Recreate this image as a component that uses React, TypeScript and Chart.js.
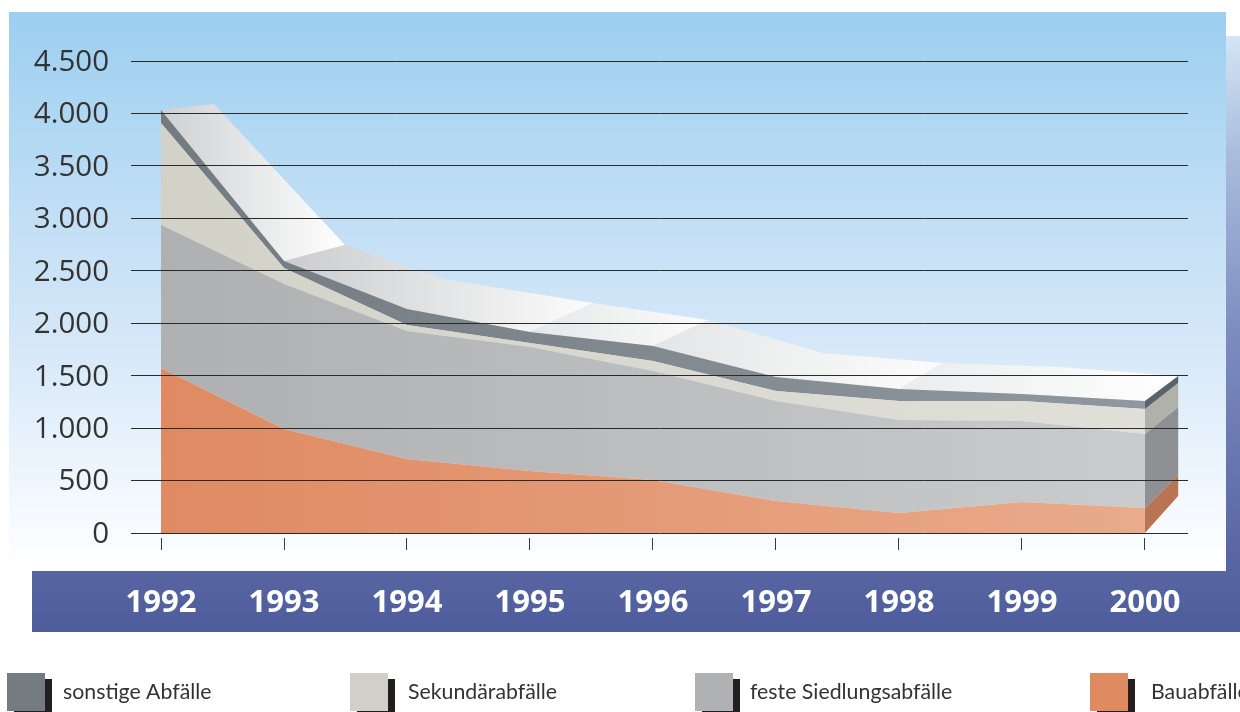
import React, { useEffect, useRef } from "react";
import { Chart, registerables } from "chart.js";

Chart.register(...registerables);

const years = [1992, 1993, 1994, 1995, 1996, 1997, 1998, 1999, 2000];
const bauabfaelle = [1573, 992, 706, 590, 505, 305, 190, 295, 238];
const siedlungsabfaelle = [1364, 1382, 1220, 1184, 1040, 954, 887, 773, 706];
const sekundaerabfaelle = [972, 153, 57, 38, 95, 95, 182, 191, 238];
const sonstigeAbfaelle = [124, 67, 153, 105, 143, 133, 114, 66, 77];

// Rear edge of the sloping top surface, in axis units.
const rearYears = [1992.43, 1993.496, 1994.29, 1995.51, 1996.45, 1997.38, 1998.35, 1999.3, 2000.27];
const rearValues = [4090, 2746, 2422, 2193, 2031, 1716, 1621, 1583, 1497];

// Rear edge of the end wall behind the last year: base, then each layer's top.
const wallRearYear = 2000.27;
const wallRearValues = [353, 553, 1201, 1430, 1497];
const wallColors = ["#b97553", "#8f9094", "#b0b1a9", "#58636b"];

// Top surface panels: first year index, last year index, shade at each end.
const topPanels: [number, number, string, string][] = [
  [0, 1, "#cfd0d2", "#ffffff"],
  [1, 3, "#cbccce", "#fcfcfc"],
  [3, 4, "#e6e7e8", "#fbfbfb"],
  [4, 6, "#e4e5e6", "#fcfcfc"],
  [6, 8, "#ebeced", "#ffffff"],
];

const legendEntries: [string, string, number, number][] = [
  ["sonstige Abfälle", "#747c82", 7, 63],
  ["Sekundärabfälle", "#d0d0c8", 350, 408],
  ["feste Siedlungsabfälle", "#b0b1b3", 695, 750],
  ["Bauabfälle", "#e08a61", 1090, 1151],
];

const tickFont = "'Open Sans', sans-serif";
const legendFont = "Lato, sans-serif";

const cumulative = (upTo: number[][]) =>
  years.map((_, i) => upTo.reduce((sum, s) => sum + s[i], 0));

const backdropPlugin = {
  id: "backdrop",
  beforeDraw(chart: any) {
    const { ctx } = chart;
    ctx.save();
    ctx.fillStyle = "#ffffff";
    ctx.fillRect(0, 0, 1240, 712);

    const strip = ctx.createLinearGradient(0, 36, 0, 632);
    strip.addColorStop(0, "#d3e5f5");
    strip.addColorStop(0.2, "#a9bcdc");
    strip.addColorStop(0.5, "#7d8cbf");
    strip.addColorStop(0.9, "#5663a1");
    strip.addColorStop(1, "#4f5c9c");
    ctx.fillStyle = strip;
    ctx.fillRect(1226, 36, 14, 596);

    const band = ctx.createLinearGradient(0, 571, 0, 632);
    band.addColorStop(0, "#5865a3");
    band.addColorStop(1, "#4f5c9b");
    ctx.fillStyle = band;
    ctx.fillRect(32, 571, 1208, 61);

    const sky = ctx.createLinearGradient(0, 12, 0, 571);
    sky.addColorStop(0, "#9ccff0");
    sky.addColorStop(0.4, "#c5e0f6");
    sky.addColorStop(0.6, "#d6e8f8");
    sky.addColorStop(0.9, "#f5faff");
    sky.addColorStop(1, "#ffffff");
    ctx.fillStyle = sky;
    ctx.fillRect(9, 12, 1217, 559);

    // Legend row
    ctx.textBaseline = "middle";
    ctx.font = `21.3px ${legendFont}`;
    legendEntries.forEach(([label, color, swatchX, textX]) => {
      ctx.fillStyle = "#231f20";
      ctx.fillRect(swatchX + 7, 679, 38, 33);
      ctx.fillStyle = color;
      ctx.fillRect(swatchX, 673, 38, 38);
      ctx.fillStyle = "#333333";
      ctx.fillText(label, textX, 692);
    });
    ctx.restore();
  },
  beforeDatasetsDraw(chart: any) {
    const { ctx, scales } = chart;
    const { x, y } = scales;
    const tops = cumulative([bauabfaelle, siedlungsabfaelle, sekundaerabfaelle, sonstigeAbfaelle]);
    ctx.save();

    topPanels.forEach(([from, to, c0, c1]) => {
      const shade = ctx.createLinearGradient(
        x.getPixelForValue(years[from]), 0,
        x.getPixelForValue(rearYears[to]), 0,
      );
      shade.addColorStop(0, c0);
      shade.addColorStop(1, c1);
      ctx.fillStyle = shade;
      ctx.beginPath();
      for (let i = from; i <= to; i++) {
        ctx.lineTo(x.getPixelForValue(years[i]), y.getPixelForValue(tops[i]));
      }
      for (let i = to; i >= from; i--) {
        ctx.lineTo(x.getPixelForValue(rearYears[i]), y.getPixelForValue(rearValues[i]));
      }
      ctx.closePath();
      ctx.fill();
    });

    // End wall, one slanted face per stacked layer
    const last = years.length - 1;
    const layers = [
      cumulative([]),
      cumulative([bauabfaelle]),
      cumulative([bauabfaelle, siedlungsabfaelle]),
      cumulative([bauabfaelle, siedlungsabfaelle, sekundaerabfaelle]),
      tops,
    ];
    wallColors.forEach((color, k) => {
      ctx.fillStyle = color;
      ctx.beginPath();
      ctx.moveTo(x.getPixelForValue(years[last]), y.getPixelForValue(layers[k][last]));
      ctx.lineTo(x.getPixelForValue(years[last]), y.getPixelForValue(layers[k + 1][last]));
      ctx.lineTo(x.getPixelForValue(wallRearYear), y.getPixelForValue(wallRearValues[k + 1]));
      ctx.lineTo(x.getPixelForValue(wallRearYear), y.getPixelForValue(wallRearValues[k]));
      ctx.closePath();
      ctx.fill();
    });
    ctx.restore();
  },
};

const sideways = (c0: string, c1: string) => (context: any) => {
  const area = context.chart.chartArea;
  if (!area) return c0;
  const { x } = context.chart.scales;
  const g = context.chart.ctx.createLinearGradient(
    x.getPixelForValue(years[0]), 0,
    x.getPixelForValue(years[years.length - 1]), 0,
  );
  g.addColorStop(0, c0);
  g.addColorStop(1, c1);
  return g;
};

const layer = (label: string, values: number[], fill: string | number, c0: string, c1: string) => ({
  label,
  data: years.map((yr, i) => ({ x: yr, y: values[i] })),
  fill,
  backgroundColor: sideways(c0, c1),
  borderWidth: 0,
  pointRadius: 0,
  tension: 0,
});

export default function App() {
  const ref = useRef<HTMLCanvasElement>(null);

  useEffect(() => {
    const chart = new Chart(ref.current as HTMLCanvasElement, {
      type: "line",
      data: {
        datasets: [
          layer("Bauabfälle", bauabfaelle, "origin", "#df8a62", "#e9ab8b"),
          layer("feste Siedlungsabfälle", siedlungsabfaelle, "-1", "#afb0b2", "#c9cbcd"),
          layer("Sekundärabfälle", sekundaerabfaelle, "-1", "#d2d2c8", "#e0e0d9"),
          layer("sonstige Abfälle", sonstigeAbfaelle, "-1", "#737b81", "#8f989e"),
        ],
      },
      options: {
        animation: false,
        responsive: false,
        devicePixelRatio: 1,
        layout: { padding: { top: 61, right: 52, bottom: 79, left: 0 } },
        plugins: { legend: { display: false }, tooltip: { enabled: false } },
        scales: {
          x: {
            type: "linear",
            min: 1991.756,
            max: 2000.35,
            afterBuildTicks(scale: any) {
              scale.ticks = years.map((value) => ({ value }));
            },
            afterFit(scale: any) {
              scale.height = 100;
            },
            border: { display: false },
            grid: {
              drawOnChartArea: false,
              drawTicks: true,
              tickLength: 17,
              tickColor: "#3a3a3a",
              tickWidth: 1,
              tickBorderDash: [0, 5, 12],
            },
            ticks: {
              autoSkip: false,
              maxRotation: 0,
              padding: 35,
              color: "#ffffff",
              font: { family: tickFont, size: 31, weight: "bold" },
              callback: (v: any) => String(v),
            },
          },
          y: {
            stacked: true,
            min: 0,
            max: 4500,
            afterFit(scale: any) {
              scale.width = 131;
            },
            border: { display: false },
            grid: { z: 1, color: "#2a2a2a", lineWidth: 1, drawTicks: false },
            ticks: {
              stepSize: 500,
              padding: 22,
              color: "#333333",
              // The empty first line nudges each number down to sit on its rule.
              font: { family: tickFont, size: 29.5, weight: "400", lineHeight: "3px" },
              callback: (v: any) => ["", String(v).replace(/\B(?=(\d{3})+$)/, ".")],
            },
          },
        },
      },
      plugins: [backdropPlugin],
    } as any);
    return () => chart.destroy();
  }, []);

  return (
    <canvas
      ref={ref}
      width={1240}
      height={712}
      style={{ position: "fixed", left: 0, top: 0, display: "block" }}
    />
  );
}
